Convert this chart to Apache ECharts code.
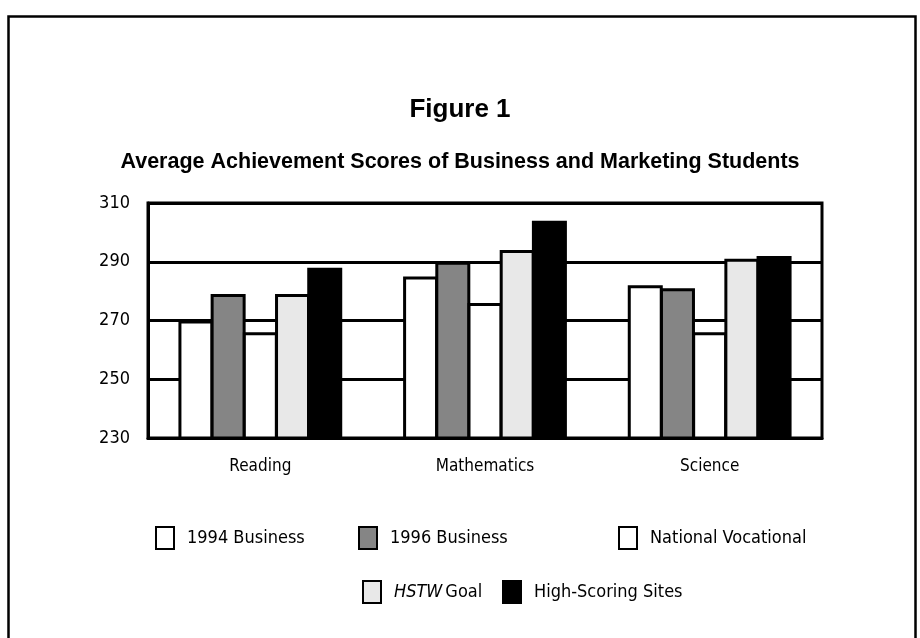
<!DOCTYPE html>
<html>
<head>
<meta charset="utf-8">
<script src="https://cdn.jsdelivr.net/npm/echarts@6/dist/echarts.min.js"></script>
<style>
html,body{margin:0;padding:0;background:#fff;}
#chart{width:920px;height:638px;}
</style>
</head>
<body>
<div id="chart"></div>
<script>
var categories = ['Reading', 'Mathematics', 'Science'];
var seriesNames = ['1994 Business', '1996 Business', 'National Vocational', 'HSTW Goal', 'High-Scoring Sites'];
var business1994 = [270, 285, 282];
var business1996 = [279, 290, 281];
var nationalVocational = [266, 276, 266];
var hstwGoal = [279, 294, 291];
var highScoringSites = [288, 304, 292];
var yTicks = [230, 250, 270, 290, 310];

var FONT = '"DejaVu Sans Condensed", "Liberation Sans", sans-serif';
var TFONT = '"Liberation Sans", Arial, sans-serif';
var values = [business1994, business1996, nationalVocational, hstwGoal, highScoringSites];
var fills = ['#ffffff', '#858585', '#ffffff', '#e8e8e8', '#000000'];

var series = seriesNames.map(function (n, i) {
  return {
    name: n,
    type: 'bar',
    data: values[i],
    barWidth: 35,
    barGap: '-8%',
    itemStyle: { color: fills[i], borderColor: '#000', borderWidth: 3 },
    emphasis: { disabled: true }
  };
});

var legendPos = [
  { left: 155, top: 526 },
  { left: 358, top: 526 },
  { left: 618, top: 526 },
  { left: 362, top: 580 },
  { left: 502, top: 580 }
];
var legends = seriesNames.map(function (n, i) {
  return {
    data: [n],
    left: legendPos[i].left,
    top: legendPos[i].top,
    padding: 0,
    icon: 'rect',
    itemWidth: 18,
    itemHeight: 22,
    selectedMode: false,
    formatter: function (name) {
      if (name === 'HSTW Goal') return '{i|HSTW}{n|Goal}';
      return '{n|' + name + '}';
    },
    textStyle: {
      fontFamily: FONT,
      fontSize: 18,
      color: '#000',
      padding: [0, 0, 0, 8],
      rich: {
        i: { fontFamily: FONT, fontSize: 18, fontStyle: 'italic', color: '#000', padding: [0, 3, 0, 0] },
        n: { fontFamily: FONT, fontSize: 18, color: '#000' }
      }
    }
  };
});

var chart = echarts.init(document.getElementById('chart'), null, { renderer: 'canvas' });
chart.setOption({
  backgroundColor: '#fff',
  animation: false,
  title: [
    { text: 'Figure 1', left: 'center', top: 92,
      textStyle: { fontFamily: TFONT, fontWeight: 'bold', fontSize: 26, color: '#000' } },
    { text: 'Average Achievement Scores of Business and Marketing Students', left: 'center', top: 146,
      textStyle: { fontFamily: TFONT, fontWeight: 'bold', fontSize: 21.5, color: '#000' } }
  ],
  legend: legends,
  grid: { left: 148, top: 203, width: 674, height: 235, show: true, borderColor: '#000', borderWidth: 3, backgroundColor: 'transparent' },
  xAxis: {
    type: 'category',
    data: categories,
    axisLine: { show: true, lineStyle: { color: '#000', width: 3 } },
    axisTick: { show: false },
    axisLabel: { fontFamily: FONT, fontSize: 17, color: '#000', margin: 20 }
  },
  yAxis: {
    type: 'value',
    min: yTicks[0],
    max: yTicks[yTicks.length - 1],
    interval: yTicks[1] - yTicks[0],
    axisLine: { show: true, lineStyle: { color: '#000', width: 3 } },
    axisTick: { show: false },
    splitLine: { show: true, lineStyle: { color: '#000', width: 3 } },
    axisLabel: { fontFamily: FONT, fontSize: 18, color: '#000', margin: 18 }
  },
  graphic: [
    { type: 'rect', silent: true, z: 100,
      shape: { x: 8.5, y: 16.5, width: 907, height: 660 },
      style: { fill: 'none', stroke: '#000', lineWidth: 2.5 } }
  ],
  series: series
});
</script>
</body>
</html>
